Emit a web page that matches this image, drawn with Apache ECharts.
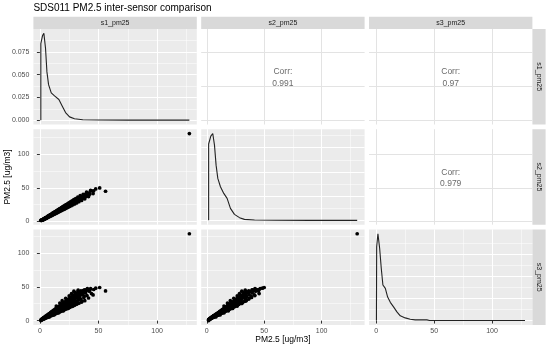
<!DOCTYPE html>
<html><head><meta charset="utf-8">
<script src="https://cdn.jsdelivr.net/npm/echarts@6/dist/echarts.min.js"></script>
<style>html,body{margin:0;padding:0;background:#fff}#c{width:550px;height:348px}</style>
</head><body><div id="c"></div>
<script>
// ---------------- DATA ----------------
const chartTitle = 'SDS011 PM2.5 inter-sensor comparison';
const axisTitle = 'PM2.5 [ug/m3]';
const varNames = ['s1_pm25', 's2_pm25', 's3_pm25'];
const scaleTicks = [0, 50, 100];
const densityTicks = [0, 0.025, 0.05, 0.075];
// correlation labels for upper panels: (s1,s2), (s1,s3), (s2,s3)
const corrLabels = ['0.991', '0.97', '0.979'];

// paired samples (same index = same moment)
const s1 = [
  1.0,1.4,1.8,2.1,2.5,2.9,3.2,3.6,4.0,4.3,
  4.7,5.1,5.4,5.8,6.2,6.5,6.9,7.3,7.6,8.0,
  8.4,8.7,9.1,9.5,9.8,10.2,10.6,10.9,11.3,11.7,
  12.0,12.4,12.8,13.1,13.5,13.9,14.2,14.6,15.0,15.4,
  15.8,16.2,16.6,17.0,17.5,17.9,18.4,18.8,19.3,19.8,
  20.3,20.8,21.3,21.8,22.4,22.9,23.5,24.1,24.7,25.3,
  26.0,26.7,27.4,28.1,28.9,29.7,30.5,31.4,32.3,33.3,
  34.4,35.6,36.9,38.3,39.8,41.5,43.3,45.4,47.6,51.0,56.0,
  29.0,33.8,32.6,127.5,0.8,
  1.2,2.3,3.5,4.5,5.6,6.7,7.8,8.9,10.0,11.1,12.2,13.3,14.4,15.6,16.8,18.0,19.2,20.5,21.9,23.3,24.8,26.4,28.0,29.9,31.9,34.0,36.4,39.0,42.1,45.9,
  14.0,17.0,19.0,22.0,25.0,27.0,30.0,35.0,38.0,40.5,
  8.0,12.0,16.0,20.0,24.0,28.0,32.0,36.0,
  2.0,3.0,4.2,5.0,6.0,7.0,8.2,9.3,10.5,11.6,12.6,13.7,
  3.8,4.9,6.3,7.1,8.6,9.0,10.4,11.0,12.3,12.9,
  14.1,14.8,15.9,16.4,17.4,18.2,19.0,19.6,20.7,21.2,
  22.2,22.7,23.8,24.4,25.5,26.2,27.0,27.8,28.5,29.3,
  30.2,31.0,31.8,32.9,33.9,35.0,36.2,37.5,39.0,40.2,
  42.5,44.0,2.7,3.3,4.8,5.3,6.6,7.7,8.5,9.6,
  10.8,11.9,13.0,14.5,15.2,16.5,17.6,18.6,19.9,21.0,
  22.6,23.9,25.7,27.2,29.1,30.9,33.0,35.3,37.8,41.0
];
const s2 = [
  1.6,1.6,2.2,1.9,2.9,2.6,3.7,3.2,4.6,3.8,
  5.3,4.5,6.1,5.1,7.0,5.8,7.8,6.5,8.6,7.1,
  9.5,7.7,10.2,8.4,11.0,9.0,11.9,9.6,12.7,10.3,
  13.4,10.9,14.3,11.5,15.1,12.2,15.9,12.8,16.8,13.6,
  17.7,14.3,18.6,15.0,19.6,15.8,20.6,16.6,21.6,17.4,
  22.7,18.3,23.9,19.2,25.1,20.2,26.3,21.2,27.7,22.3,
  29.1,23.5,30.7,24.7,32.4,26.1,34.2,27.6,36.2,29.3,
  38.5,31.3,40.3,33.7,43.6,37.0,46.5,41.5,48.5,50.0,45.0,
  30.5,34.0,33.5,131.0,1.6,
  1.7,2.6,3.4,4.8,5.5,6.9,7.9,9.2,10.1,11.4,12.5,13.6,14.8,15.9,17.1,18.3,19.6,20.9,22.2,23.7,25.1,26.8,28.5,30.3,32.4,34.6,36.9,39.6,42.5,45.6,
  15.0,18.0,20.5,23.5,26.5,28.5,32.0,36.5,39.5,42.0,
  7.8,11.5,15.0,18.8,22.5,26.5,30.5,34.0,
  2.4,3.0,4.2,5.3,6.2,7.3,8.5,9.6,10.9,11.9,13.0,14.1,
  4.1,4.7,6.0,7.6,8.1,9.7,10.0,11.8,11.7,13.8,
  13.4,15.7,15.1,17.5,16.5,19.3,18.0,20.9,19.6,22.5,
  21.0,24.1,22.5,25.8,24.2,27.7,25.6,29.4,27.0,30.9,
  28.7,32.6,30.2,34.5,32.3,36.6,34.4,39.0,37.0,41.9,
  40.5,45.6,2.9,3.6,5.2,5.0,6.4,7.4,8.9,9.2,
  11.3,11.5,13.3,14.0,15.8,16.0,18.2,18.0,20.6,20.3,
  23.3,23.1,26.5,26.2,29.9,29.8,33.9,34.0,38.7,39.6
];
const s3 = [
  1.4,0.9,2.5,1.5,3.4,2.1,4.3,2.7,5.3,3.3,
  6.2,3.9,7.1,4.5,8.1,5.0,9.0,5.6,9.9,6.2,
  10.9,6.7,11.8,7.3,12.8,7.9,13.8,8.4,14.7,9.0,
  15.6,9.6,16.6,10.1,17.6,10.7,18.5,11.3,19.5,11.9,
  20.5,12.5,21.6,13.1,22.8,13.8,23.9,14.5,25.1,15.3,
  26.4,16.0,27.7,16.8,29.1,17.7,30.6,18.6,32.1,19.5,
  33.8,20.6,35.6,21.7,37.6,22.9,39.7,24.2,42.0,25.7,
  43.0,27.5,44.5,29.5,46.0,33.5,47.5,38.0,48.0,49.0,44.0,
  43.5,37.8,45.0,128.5,0.1,
  1.3,2.4,3.7,4.6,5.9,6.8,8.1,9.1,10.4,11.6,12.7,13.9,15.1,16.3,17.6,18.9,20.3,21.6,23.1,24.6,26.3,27.9,29.8,31.7,33.9,35.8,38.4,40.9,43.6,46.0,
  21.5,26.0,29.5,33.0,36.5,40.0,41.5,44.0,45.5,47.5,
  5.5,8.4,11.5,14.5,18.0,21.5,25.5,29.0,
  2.0,3.2,4.9,5.0,6.6,7.5,9.0,10.2,11.4,12.8,13.6,14.9,
  4.4,5.6,7.4,6.6,9.8,8.1,11.9,10.0,14.2,11.6,
  16.3,13.5,18.3,14.8,20.2,16.6,22.1,17.8,24.3,19.3,
  26.0,20.7,27.9,22.2,30.0,23.9,31.9,25.3,33.8,26.7,
  35.9,28.3,37.8,30.1,39.8,31.9,41.6,34.2,43.0,37.0,
  44.8,40.0,3.0,3.5,5.4,6.0,7.2,8.6,8.0,10.9,
  10.3,13.3,12.4,16.6,14.6,18.7,16.9,21.3,19.0,24.2,
  21.6,27.4,24.6,31.0,27.9,35.2,31.6,40.1,36.3,45.2
];

// density curves (diagonal)
const densX1 = [0.8, 0.8, 2.3, 3.4, 4.8, 6.0, 7.4, 9.7, 12.5, 16.2, 19.0, 21.9, 25.3, 29.5, 36.6, 50, 75, 100, 127.5];
const densY1 = [0, 0.084, 0.093, 0.0953, 0.079, 0.053, 0.039, 0.030, 0.0266, 0.0227, 0.0156, 0.0084, 0.0036, 0.0015, 0.0004, 0.0001, 0, 0, 0];
const densX2 = [1.6, 1.6, 3.5, 5.2, 6.7, 8.1, 9.6, 11.9, 14.8, 17.7, 20.6, 24.1, 28.5, 32.8, 41.6, 60, 90, 131];
const densY2 = [0, 0.0788, 0.0869, 0.0896, 0.0776, 0.0570, 0.0433, 0.0347, 0.0278, 0.0227, 0.0124, 0.0062, 0.0028, 0.0010, 0.0004, 0.0001, 0, 0];
const densX3 = [0.1, 0.3, 1.4, 2.9, 4.3, 5.7, 7.8, 9.8, 12.1, 14.9, 17.8, 20.7, 25.0, 29.3, 33.6, 43.7, 46, 70, 100, 128.5];
const densY3 = [0, 0.0833, 0.098, 0.0813, 0.0588, 0.0402, 0.0363, 0.0265, 0.0206, 0.0154, 0.0098, 0.0053, 0.0030, 0.0015, 0.0008, 0.0008, 0.0001, 0, 0, 0];

// ---------------- LAYOUT ----------------
const FONT = '"Liberation Sans", Arial, sans-serif';
const colLeft = [33.4, 201.2, 369.0];
const rowTop = [29.0, 129.2, 229.4];
const PW = 163.4, PH = 95.5;
const PANEL_BG = '#EBEBEB', STRIP_BG = '#D9D9D9';

const vars = [s1, s2, s3];
const dens = [[densX1, densY1], [densX2, densY2], [densX3, densY3]];
function ext(a) { const mn = Math.min(...a), mx = Math.max(...a), p = (mx - mn) * 0.05; return [mn - p, mx + p]; }
const varExt = vars.map(ext);
const densExt = dens.map(d => { const mx = Math.max(...d[1]); return [-0.05 * mx, 1.05 * mx]; });

const grid = [], xAxis = [], yAxis = [], series = [], graphic = [];
const corrIdx = { '0,1': 0, '0,2': 1, '1,2': 2 };

for (let r = 0; r < 3; r++) {
  for (let c = 0; c < 3; c++) {
    const i = r * 3 + c;
    const upper = c > r, diag = c === r;
    grid.push({ left: colLeft[c], top: rowTop[r], width: PW, height: PH, show: true,
      backgroundColor: upper ? '#FFFFFF' : PANEL_BG, borderWidth: 0, containLabel: false });
    const splitColor = upper ? '#E3E3E3' : '#FFFFFF';
    xAxis.push({
      gridIndex: i, type: 'value', min: varExt[c][0], max: varExt[c][1],
      minInterval: 50, maxInterval: 50,
      axisLine: { show: false },
      axisTick: { show: r === 2, length: 3, lineStyle: { color: '#333333', width: 1 }, customValues: scaleTicks },
      axisLabel: { show: r === 2, customValues: scaleTicks, fontSize: 7, color: '#4D4D4D', margin: 3, fontFamily: FONT },
      splitLine: { show: true, lineStyle: { color: splitColor, width: 1 } },
      minorTick: { show: false, splitNumber: 2 },
      minorSplitLine: { show: !upper, lineStyle: { color: '#FFFFFF', width: 0.5 } }
    });
    const yMin = diag ? densExt[r][0] : varExt[r][0];
    const yMax = diag ? densExt[r][1] : varExt[r][1];
    const yInt = diag ? 0.025 : 50;
    const yTicks = diag ? densityTicks : scaleTicks;
    yAxis.push({
      gridIndex: i, type: 'value', min: yMin, max: yMax,
      minInterval: yInt, maxInterval: yInt,
      axisLine: { show: false },
      axisTick: { show: c === 0, length: 3, lineStyle: { color: '#333333', width: 1 }, customValues: yTicks },
      axisLabel: { show: c === 0, customValues: yTicks, fontSize: 7, color: '#4D4D4D', margin: 4, fontFamily: FONT,
        formatter: v => diag ? v.toFixed(3) : String(v) },
      splitLine: { show: true, lineStyle: { color: splitColor, width: 1 } },
      minorTick: { show: false, splitNumber: 2 },
      minorSplitLine: { show: !upper, lineStyle: { color: '#FFFFFF', width: 0.5 } }
    });
    if (diag) {
      series.push({ type: 'line', xAxisIndex: i, yAxisIndex: i, showSymbol: false, symbol: 'none', silent: true,
        data: dens[r][0].map((x, k) => [x, dens[r][1][k]]),
        lineStyle: { color: '#222222', width: 1.1 } });
    } else if (!upper) {
      series.push({ type: 'scatter', xAxisIndex: i, yAxisIndex: i, symbolSize: 3.7, silent: true,
        itemStyle: { color: '#000000', opacity: 1 },
        data: vars[c].map((x, k) => [x, vars[r][k]]) });
    } else {
      graphic.push({ type: 'text', x: colLeft[c] + PW / 2, y: rowTop[r] + PH / 2 + 1, silent: true,
        style: { text: 'Corr:\n' + corrLabels[corrIdx[r + ',' + c]], fill: '#6A6A6A', font: '8.5px ' + FONT,
          align: 'center', verticalAlign: 'middle', lineHeight: 11.5 } });
    }
  }
}

// strips
for (let c = 0; c < 3; c++) {
  graphic.push({ type: 'rect', shape: { x: colLeft[c], y: 16.8, width: PW, height: 12.2 }, style: { fill: STRIP_BG }, silent: true });
  graphic.push({ type: 'text', x: colLeft[c] + PW / 2, y: 16.8 + 6.1, silent: true,
    style: { text: varNames[c], fill: '#1A1A1A', font: '7px ' + FONT, align: 'center', verticalAlign: 'middle' } });
}
const stripX = colLeft[2] + PW;
for (let r = 0; r < 3; r++) {
  graphic.push({ type: 'rect', shape: { x: stripX, y: rowTop[r], width: 13.2, height: PH }, style: { fill: STRIP_BG }, silent: true });
  graphic.push({ type: 'text', x: stripX + 6.6, y: rowTop[r] + PH / 2, rotation: -Math.PI / 2, silent: true,
    style: { text: varNames[r], fill: '#1A1A1A', font: '7px ' + FONT, align: 'center', verticalAlign: 'middle' } });
}
// titles
graphic.push({ type: 'text', x: colLeft[0], y: 8.5, silent: true,
  style: { text: chartTitle, fill: '#000000', font: '10px ' + FONT, align: 'left', verticalAlign: 'middle' } });
graphic.push({ type: 'text', x: (colLeft[0] + colLeft[2] + PW) / 2, y: 340, silent: true,
  style: { text: axisTitle, fill: '#000000', font: '8.5px ' + FONT, align: 'center', verticalAlign: 'middle' } });
graphic.push({ type: 'text', x: 8, y: (rowTop[0] + rowTop[2] + PH) / 2, rotation: Math.PI / 2, silent: true,
  style: { text: axisTitle, fill: '#000000', font: '8.5px ' + FONT, align: 'center', verticalAlign: 'middle' } });

const chart = echarts.init(document.getElementById('c'), null, { renderer: 'canvas' });
chart.setOption({ animation: false, backgroundColor: '#FFFFFF', grid, xAxis, yAxis, series, graphic });
</script>
</body></html>
